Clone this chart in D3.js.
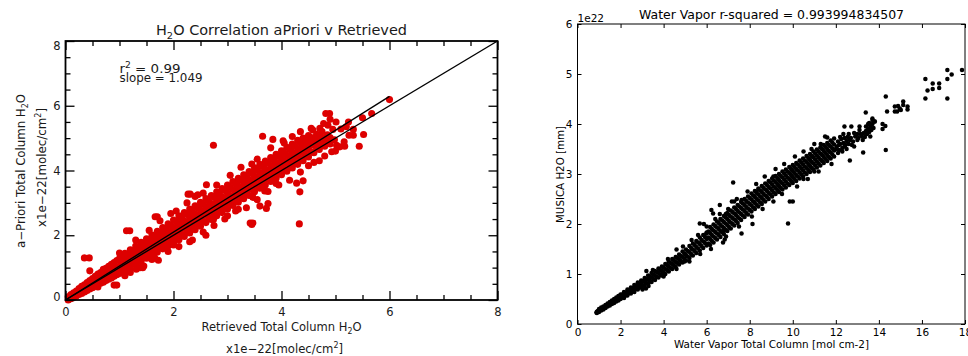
<!DOCTYPE html>
<html>
<head>
<meta charset="utf-8">
<script src="https://cdn.jsdelivr.net/npm/d3@7"></script>
<style>
  body { margin: 0; background: #fff; }
  svg { display: block; }
</style>
</head>
<body>
<svg id="chart" width="968" height="356"></svg>
<script>
// ---------- left panel data: [retrieved, aPriori] x1e-22 ----------
const leftTicks = [0, 2, 4, 6, 8];
const leftMinor = [0.5, 1, 1.5, 2.5, 3, 3.5, 4.5, 5, 5.5, 6.5, 7, 7.5];
const oneToOneLine = [[0, 0], [8, 8]];
const fitLine = [[0, 0], [6, 6.29]];
const fitStats = { r2: '0.99', slope: '1.049' };

const leftCore = [
  [0.05,0.0],[0.05,0.1],[0.1,0.04],[0.1,0.17],[0.15,0.08],[0.15,0.22],[0.16,0.14],[0.2,0.12],[0.2,0.28],[0.21,0.2],
  [0.25,0.17],[0.25,0.35],[0.26,0.25],[0.3,0.2],[0.3,0.42],[0.31,0.3],[0.35,0.25],[0.35,0.47],[0.36,0.36],[0.4,0.29],
  [0.4,0.54],[0.41,0.4],[0.45,0.34],[0.45,0.6],[0.46,0.47],[0.5,0.38],[0.5,0.66],[0.51,0.52],[0.55,0.43],[0.55,0.73],
  [0.56,0.57],[0.6,0.47],[0.6,0.8],[0.61,0.62],[0.65,0.52],[0.65,0.85],[0.66,0.68],[0.7,0.55],[0.7,0.92],[0.71,0.73],
  [0.75,0.6],[0.75,0.98],[0.76,0.79],[0.8,0.64],[0.8,1.04],[0.81,0.85],[0.85,0.68],[0.85,1.1],[0.86,0.9],[0.9,0.73],
  [0.9,1.16],[0.91,0.95],[0.95,0.78],[0.95,1.22],[0.96,1.0],[1.0,0.82],[1.0,1.28],[1.01,1.05],
  [1.05,0.94],[1.05,1.11],[1.05,1.28],[1.1,0.9],[1.1,1.08],[1.1,1.26],[1.1,1.44],[1.15,1.04],[1.15,1.22],[1.15,1.4],
  [1.2,0.99],[1.2,1.18],[1.2,1.36],[1.2,1.55],[1.25,1.14],[1.25,1.33],[1.25,1.51],[1.3,1.09],[1.3,1.28],[1.3,1.48],
  [1.3,1.67],[1.35,1.24],[1.35,1.43],[1.35,1.62],[1.4,1.18],[1.4,1.38],[1.4,1.58],[1.4,1.78],[1.45,1.34],[1.45,1.54],
  [1.45,1.74],[1.5,1.29],[1.5,1.49],[1.5,1.69],[1.5,1.89],[1.55,1.43],[1.55,1.64],[1.55,1.85],[1.6,1.39],[1.6,1.6],
  [1.6,1.8],[1.6,2.01],[1.65,1.54],[1.65,1.75],[1.65,1.96],[1.7,1.48],[1.7,1.69],[1.7,1.91],[1.7,2.12],[1.75,1.64],
  [1.75,1.86],[1.75,2.08],[1.8,1.58],[1.8,1.8],[1.8,2.02],[1.8,2.24],[1.85,1.73],[1.85,1.96],[1.85,2.19],[1.9,1.67],
  [1.9,1.9],[1.9,2.12],[1.9,2.35],[1.95,1.84],[1.95,2.07],[1.95,2.3],[2.0,1.77],[2.0,2.0],[2.0,2.24],[2.0,2.47],
  [2.05,1.92],[2.05,2.17],[2.05,2.42],[2.1,1.86],[2.1,2.11],[2.1,2.35],[2.1,2.6],[2.15,2.03],[2.15,2.28],[2.15,2.53],
  [2.2,1.96],[2.2,2.21],[2.2,2.45],[2.2,2.7],[2.25,2.14],[2.25,2.39],[2.25,2.64],[2.3,2.07],[2.3,2.32],[2.3,2.56],
  [2.3,2.81],[2.35,2.24],[2.35,2.49],[2.35,2.74],[2.4,2.17],[2.4,2.42],[2.4,2.66],[2.4,2.91],[2.45,2.35],[2.45,2.6],
  [2.45,2.85],[2.5,2.28],[2.5,2.53],[2.5,2.77],[2.5,3.02],[2.55,2.45],[2.55,2.7],[2.55,2.95],[2.6,2.39],[2.6,2.64],
  [2.6,2.88],[2.6,3.13],[2.65,2.56],[2.65,2.81],[2.65,3.06],[2.7,2.49],[2.7,2.74],[2.7,2.98],[2.7,3.23],[2.75,2.67],
  [2.75,2.92],[2.75,3.17],[2.8,2.6],[2.8,2.85],[2.8,3.09],[2.8,3.34],[2.85,2.77],[2.85,3.02],[2.85,3.27],[2.9,2.7],
  [2.9,2.95],[2.9,3.19],[2.9,3.44],[2.95,2.88],[2.95,3.13],[2.95,3.38],[3.0,2.81],[3.0,3.06],[3.0,3.3],[3.0,3.55],
  [3.05,2.98],[3.05,3.23],[3.05,3.48],[3.1,2.92],[3.1,3.17],[3.1,3.41],[3.1,3.66],[3.15,3.09],[3.15,3.34],[3.15,3.59],
  [3.2,3.02],[3.2,3.27],[3.2,3.51],[3.2,3.76],[3.25,3.2],[3.25,3.45],[3.25,3.7],[3.3,3.13],[3.3,3.38],[3.3,3.62],
  [3.3,3.87],[3.35,3.3],[3.35,3.55],[3.35,3.8],[3.4,3.23],[3.4,3.48],[3.4,3.72],[3.4,3.97],[3.45,3.41],[3.45,3.66],
  [3.45,3.91],[3.5,3.34],[3.5,3.59],[3.5,3.83],[3.5,4.08],[3.55,3.51],[3.55,3.76],[3.55,4.01],[3.6,3.45],[3.6,3.7],
  [3.6,3.94],[3.6,4.19],[3.65,3.62],[3.65,3.87],[3.65,4.12],[3.7,3.55],[3.7,3.8],[3.7,4.04],[3.7,4.29],[3.75,3.73],
  [3.75,3.98],[3.75,4.23],[3.8,3.66],[3.8,3.91],[3.8,4.15],[3.8,4.4],[3.85,3.83],[3.85,4.08],[3.85,4.33],[3.9,3.76],
  [3.9,4.01],[3.9,4.25],[3.9,4.5],[3.95,3.94],[3.95,4.19],[3.95,4.44],[4.0,3.87],[4.0,4.12],[4.0,4.36],[4.0,4.61],
  [4.05,4.04],[4.05,4.29],[4.05,4.54],[4.1,3.98],[4.1,4.23],[4.1,4.47],[4.1,4.72],[4.15,4.15],[4.15,4.4],[4.15,4.65],
  [4.2,4.08],[4.2,4.33],[4.2,4.57],[4.2,4.82],[4.25,4.25],[4.25,4.5],[4.25,4.75],[4.3,4.19],[4.3,4.44],[4.3,4.68],
  [4.3,4.93],[4.35,4.36],[4.35,4.61],[4.35,4.86],[4.4,4.3],[4.4,4.55],[4.4,4.78],[4.4,5.0],[4.45,4.47],[4.45,4.72],
  [4.45,4.95],[4.5,4.42],[4.5,4.65],[4.5,4.88],[4.5,5.08],[4.55,4.58],[4.55,4.82],[4.55,5.02],[4.6,4.55],[4.6,4.78],
  [4.6,4.98],[4.65,4.7],[4.65,4.9],[4.65,5.12],[4.7,4.65],[4.7,4.85],[4.7,5.05],[4.75,4.8],[4.75,5.0],[4.75,5.2],
  [4.8,4.75],[4.8,4.95],[4.85,4.9],[4.85,5.1],[4.9,4.82],[4.9,5.02]
];

const leftScatter = [
  [2.74,4.78],[4.33,2.35],[3.42,2.38],[3.47,2.38],[3.45,2.33],[3.65,5.06],[3.84,4.96],[4.03,4.92],[0.35,1.3],[0.44,1.3],
  [0.45,0.9],[0.9,0.46],[0.95,0.46],[1.13,2.14],[1.19,2.14],[1.38,1.0],[1.43,1.0],[1.31,0.95],[1.66,2.57],[1.7,2.57],
  [1.72,1.23],[1.95,2.67],[2.27,3.27],[2.31,3.27],[2.4,3.2],[2.61,3.56],[2.6,2.0],[2.74,2.49],[3.6,2.9],[3.75,2.98],
  [3.72,2.83],[4.34,3.34],[4.4,3.68],[4.28,3.61],[3.47,3.17],[3.69,3.37],[4.82,5.76],[4.89,5.76],[4.9,5.58],[5.01,5.5],
  [5.24,5.5],[5.1,5.28],[5.33,5.27],[5.5,5.63],[5.67,5.76],[5.52,5.11],[5.44,4.75],[5.33,5.09],[5.25,5.09],[5.17,4.75],
  [5.16,4.89],[4.93,4.58],[5.02,4.78],[6.0,6.19],[4.95,5.27],[4.86,5.4],[4.71,5.3],[4.58,5.25],[5.08,4.73],[4.98,4.95],
  [5.2,5.35],[4.78,5.45],[1.0,1.45],[1.3,1.85],[1.55,2.15],[1.75,2.45],[2.05,2.75],[2.25,3.0],[2.45,3.25],[2.55,3.3],
  [2.8,3.55],[3.05,3.85],[3.25,4.1],[3.45,4.2],[3.55,4.35],[3.8,4.7],[4.05,4.85],[4.2,5.05],[4.35,5.2],[4.55,5.3],
  [1.1,0.75],[1.45,1.05],[1.65,1.3],[1.9,1.5],[2.1,1.65],[2.35,1.85],[2.55,2.1],[2.75,2.3],[2.95,2.5],[3.15,2.75],
  [3.35,2.85],[3.55,3.1],[3.75,3.35],[3.95,3.55],[4.15,3.7],[4.35,3.95],[4.6,4.25],[4.8,4.45],[5.0,4.6],[0.6,0.4],
  [0.7,0.95],[1.2,0.85],[1.6,1.25],[2.0,1.7],[2.3,1.8],[3.0,2.6],[3.2,2.8],[3.9,3.6],[4.5,4.15],[4.7,4.3]
];

// ---------- right panel data: [total column mol cm-2, MUSICA H2O x1e22] ----------
const rightXTicks = [0, 2, 4, 6, 8, 10, 12, 14, 16, 18];
const rightYTicks = [0, 1, 2, 3, 4, 5, 6];

const rightCore = [
  [0.9,0.24],[0.88,0.23],[0.92,0.25],[0.9,0.22],[0.95,0.26],[1.0,0.24],[1.0,0.3],[1.05,0.28],[1.1,0.27],[1.1,0.33],
  [1.15,0.31],[1.2,0.29],[1.2,0.35],[1.25,0.34],[1.3,0.32],[1.3,0.38],[1.35,0.36],[1.4,0.35],[1.4,0.41],[1.45,0.39],
  [1.5,0.37],[1.5,0.44],[1.55,0.42],[1.6,0.4],[1.6,0.47],[1.65,0.45],[1.7,0.42],[1.7,0.5],[1.75,0.47],[1.8,0.45],
  [1.8,0.53],[1.85,0.5],[1.9,0.47],[1.9,0.56],[1.95,0.53],[2.0,0.5],[2.0,0.59],
  [2.08,0.53],[2.08,0.59],[2.16,0.52],[2.16,0.58],[2.16,0.64],[2.24,0.57],[2.24,0.63],[2.32,0.57],[2.32,0.63],[2.32,0.69],
  [2.4,0.62],[2.4,0.68],[2.48,0.61],[2.48,0.67],[2.48,0.73],[2.56,0.66],[2.56,0.72],[2.64,0.64],[2.64,0.71],[2.64,0.78],
  [2.72,0.7],[2.72,0.76],[2.8,0.69],[2.8,0.76],[2.8,0.83],[2.88,0.74],[2.88,0.81],[2.96,0.73],[2.96,0.8],[2.96,0.87],
  [3.04,0.77],[3.04,0.86],[3.12,0.76],[3.12,0.84],[3.12,0.92],[3.2,0.82],[3.2,0.9],[3.28,0.8],[3.28,0.89],[3.28,0.97],
  [3.36,0.86],[3.36,0.95],[3.44,0.84],[3.44,0.93],[3.44,1.02],[3.52,0.9],[3.52,0.99],[3.6,0.88],[3.6,0.97],[3.6,1.06],
  [3.68,0.94],[3.68,1.04],[3.76,0.93],[3.76,1.02],[3.76,1.11],[3.84,0.99],[3.84,1.08],[3.92,0.97],[3.92,1.06],[3.92,1.15],
  [4.0,1.03],[4.0,1.13],
  [4.08,1.0],[4.08,1.1],[4.08,1.2],[4.16,1.08],[4.16,1.18],[4.24,1.05],[4.24,1.15],[4.24,1.25],[4.32,1.12],[4.32,1.22],
  [4.4,1.1],[4.4,1.2],[4.4,1.3],[4.48,1.17],[4.48,1.27],[4.56,1.14],[4.56,1.24],[4.56,1.34],[4.64,1.22],[4.64,1.32],
  [4.72,1.19],[4.72,1.29],[4.72,1.39],[4.8,1.26],[4.8,1.36],[4.88,1.23],[4.88,1.34],[4.88,1.45],[4.96,1.31],[4.96,1.41],
  [5.04,1.27],[5.04,1.38],[5.04,1.49],[5.12,1.35],[5.12,1.46],[5.2,1.32],[5.2,1.44],[5.2,1.56],[5.28,1.4],[5.28,1.52],
  [5.36,1.37],[5.36,1.49],[5.36,1.61],[5.44,1.46],[5.44,1.58],[5.52,1.42],[5.52,1.54],[5.52,1.66],[5.6,1.51],[5.6,1.63],
  [5.68,1.47],[5.68,1.6],[5.68,1.73],[5.76,1.56],[5.76,1.68],[5.84,1.52],[5.84,1.65],[5.84,1.78],[5.92,1.62],[5.92,1.74],
  [6.0,1.57],[6.0,1.7],[6.0,1.83],
  [6.08,1.61],[6.08,1.73],[6.08,1.85],[6.16,1.58],[6.16,1.7],[6.16,1.82],[6.16,1.94],[6.24,1.66],[6.24,1.78],[6.24,1.9],
  [6.32,1.63],[6.32,1.75],[6.32,1.87],[6.32,1.99],[6.4,1.72],[6.4,1.84],[6.4,1.96],[6.48,1.69],[6.48,1.81],[6.48,1.93],
  [6.48,2.05],[6.56,1.78],[6.56,1.9],[6.56,2.02],[6.64,1.74],[6.64,1.86],[6.64,1.98],[6.64,2.1],[6.72,1.83],[6.72,1.95],
  [6.72,2.07],[6.8,1.8],[6.8,1.92],[6.8,2.04],[6.8,2.16],[6.88,1.89],[6.88,2.01],[6.88,2.13],[6.96,1.86],[6.96,1.98],
  [6.96,2.1],[6.96,2.22],[7.04,1.94],[7.04,2.06],[7.04,2.18],[7.12,1.91],[7.12,2.03],[7.12,2.15],[7.12,2.27],[7.2,2.0],
  [7.2,2.12],[7.2,2.24],[7.28,1.97],[7.28,2.09],[7.28,2.21],[7.28,2.33],[7.36,2.06],[7.36,2.18],[7.36,2.3],[7.44,2.02],
  [7.44,2.14],[7.44,2.26],[7.44,2.38],[7.52,2.11],[7.52,2.23],[7.52,2.35],[7.6,2.08],[7.6,2.2],[7.6,2.32],[7.6,2.44],
  [7.68,2.17],[7.68,2.29],[7.68,2.41],[7.76,2.14],[7.76,2.26],[7.76,2.38],[7.76,2.5],[7.84,2.22],[7.84,2.34],[7.84,2.46],
  [7.92,2.19],[7.92,2.31],[7.92,2.43],[7.92,2.55],[8.0,2.28],[8.0,2.4],[8.0,2.52],[8.08,2.25],[8.08,2.37],[8.08,2.49],
  [8.08,2.61],[8.16,2.33],[8.16,2.45],[8.16,2.57],[8.24,2.3],[8.24,2.42],[8.24,2.54],[8.24,2.66],[8.32,2.38],[8.32,2.5],
  [8.32,2.62],[8.4,2.35],[8.4,2.47],[8.4,2.59],[8.4,2.71],[8.48,2.43],[8.48,2.55],[8.48,2.67],[8.56,2.4],[8.56,2.52],
  [8.56,2.64],[8.56,2.76],[8.64,2.48],[8.64,2.6],[8.64,2.72],[8.72,2.45],[8.72,2.57],[8.72,2.69],[8.72,2.81],[8.8,2.54],
  [8.8,2.66],[8.8,2.78],[8.88,2.5],[8.88,2.62],[8.88,2.74],[8.88,2.86],[8.96,2.59],[8.96,2.71],[8.96,2.83],[9.04,2.55],
  [9.04,2.67],[9.04,2.79],[9.04,2.91],[9.12,2.63],[9.12,2.75],[9.12,2.87],[9.2,2.6],[9.2,2.72],[9.2,2.84],[9.2,2.96],
  [9.28,2.68],[9.28,2.8],[9.28,2.92],[9.36,2.64],[9.36,2.76],[9.36,2.88],[9.36,3.0],[9.44,2.72],[9.44,2.84],[9.44,2.96],
  [9.52,2.69],[9.52,2.81],[9.52,2.93],[9.52,3.05],[9.6,2.77],[9.6,2.89],[9.6,3.01],[9.68,2.73],[9.68,2.85],[9.68,2.97],
  [9.68,3.09],[9.76,2.81],[9.76,2.93],[9.76,3.05],[9.84,2.78],[9.84,2.9],[9.84,3.02],[9.84,3.14],[9.92,2.86],[9.92,2.98],
  [9.92,3.1],[10.0,2.82],[10.0,2.94],[10.0,3.06],[10.0,3.18],[10.08,2.9],[10.08,3.02],[10.08,3.14],[10.16,2.86],[10.16,2.98],
  [10.16,3.1],[10.16,3.22],[10.24,2.95],[10.24,3.07],[10.24,3.19],[10.32,2.91],[10.32,3.03],[10.32,3.15],[10.32,3.27],[10.4,2.99],
  [10.4,3.11],[10.4,3.23],[10.48,2.95],[10.48,3.07],[10.48,3.19],[10.48,3.31],[10.56,3.03],[10.56,3.15],[10.56,3.27],[10.64,3.0],
  [10.64,3.12],[10.64,3.24],[10.64,3.36],[10.72,3.08],[10.72,3.2],[10.72,3.32],[10.8,3.04],[10.8,3.16],[10.8,3.28],[10.8,3.4],
  [10.88,3.12],[10.88,3.24],[10.88,3.36],[10.96,3.09],[10.96,3.21],[10.96,3.33],[10.96,3.45],[11.04,3.17],[11.04,3.29],[11.04,3.41],
  [11.12,3.13],[11.12,3.25],[11.12,3.37],[11.12,3.49],[11.2,3.21],[11.2,3.33],[11.2,3.45],[11.28,3.17],[11.28,3.29],[11.28,3.41],
  [11.28,3.53],[11.36,3.26],[11.36,3.38],[11.36,3.5],[11.44,3.22],[11.44,3.34],[11.44,3.46],[11.44,3.58],[11.52,3.3],[11.52,3.42],
  [11.52,3.54],[11.6,3.26],[11.6,3.38],[11.6,3.5],[11.6,3.62],[11.68,3.34],[11.68,3.46],[11.68,3.58],[11.76,3.31],[11.76,3.43],
  [11.76,3.55],[11.76,3.67],[11.84,3.39],[11.84,3.51],[11.84,3.63],[11.92,3.35],[11.92,3.47],[11.92,3.59],[11.92,3.71],
  [12.05,3.55],[12.1,3.65],[12.15,3.48],[12.2,3.6],[12.25,3.7],[12.3,3.52],[12.35,3.62],[12.4,3.72],[12.45,3.58],[12.5,3.66],
  [12.55,3.74],[12.6,3.6],[12.65,3.68],[12.1,3.42],[12.3,3.45],[12.2,3.74],[12.5,3.5],[12.7,3.72],[12.75,3.58],[12.9,3.75],
  [13.0,3.8],[13.05,3.72],[13.15,3.8],[13.2,3.76],[13.3,3.82],[13.35,3.74],[13.4,3.86],[13.45,3.8],[13.5,3.9],[13.55,3.84],
  [13.6,3.95],[13.65,3.88],[13.7,4.0],[13.75,3.92],[13.8,4.05],[13.55,4.02],[13.7,4.08],[13.4,3.95],[13.0,3.68],[13.6,3.75],
  [12.0,3.5],[12.15,3.58],[12.4,3.55],[12.35,3.8],[12.6,3.8],[12.8,3.65],[12.85,3.82],[13.1,3.88],[13.25,3.68],[13.5,4.0]
];

const rightScatter = [
  [16.16,4.9],[16.16,4.51],[16.26,4.67],[16.5,4.81],[16.8,4.81],[16.5,4.7],[16.8,4.72],[17.18,5.08],[17.18,4.9],[17.18,4.51],
  [17.38,4.99],[17.86,5.08],[14.32,4.55],[14.38,4.25],[14.32,3.48],[14.17,3.9],[14.17,4.0],[14.3,3.96],[14.74,4.35],[14.89,4.36],
  [14.74,4.25],[14.85,4.25],[15.02,4.28],[15.13,4.45],[15.13,4.38],[15.33,4.35],[15.33,4.29],[14.97,4.31],[13.39,4.23],[13.7,4.11],
  [13.81,4.05],[9.78,2.01],[9.86,2.45],[10.0,2.45],[12.65,3.27],[13.27,3.43],[12.72,3.95],[12.4,3.95],[11.6,3.73],[10.87,3.5],
  [10.9,3.35],[7.23,2.83],[5.87,2.0],[6.61,2.2],[6.89,2.2],[7.17,2.45],[7.28,2.45],[7.62,2.48],[6.3,2.21],[6.8,1.87],
  [6.61,2.38],[3.18,0.71],[5.68,2.01],[3.02,0.69],[3.2,1.06],[4.6,1.49],[4.98,1.25],[5.99,1.81],[6.22,2.28],[6.84,1.69],
  [6.76,1.63],[7.62,1.81],[8.13,2.0],[8.3,2.65],[9.1,2.95],[10.5,2.9],[11.0,3.05],[11.3,3.6],[12.85,3.55],[13.1,3.95],
  [3.5,1.08],[4.2,1.3],[4.9,1.55],[5.3,1.68],[5.6,1.78],[6.0,1.95],[6.4,2.1],[7.0,2.3],[7.4,2.5],[7.9,2.65],
  [8.3,2.8],[8.7,2.95],[9.2,3.1],[9.6,3.2],[10.1,3.35],[10.5,3.45],[11.0,3.6],[11.5,3.75],[3.3,0.76],[4.0,0.95],
  [4.6,1.1],[5.2,1.25],[5.7,1.4],[6.2,1.5],[6.9,1.75],[7.5,1.95],[8.1,2.15],[8.6,2.3],[9.1,2.45],[9.5,2.6],
  [10.2,2.75],[10.7,2.9],[11.2,3.05],[11.8,3.2]
];

// ---------- drawing ----------
const svg = d3.select('#chart');
const fontFamily = '"DejaVu Sans", Verdana, sans-serif';

// text with sub/superscript pieces: parts = [[text, 'sub'|'sup'|null], ...]
function richText(parent, parts, opts) {
  const t = parent.append('text')
    .attr('font-family', fontFamily)
    .attr('font-size', opts.size)
    .attr('fill', opts.fill)
    .attr('text-anchor', opts.anchor || 'start')
    .attr('x', opts.x).attr('y', opts.y);
  if (opts.rotate) t.attr('transform', `rotate(${opts.rotate},${opts.x},${opts.y})`);
  if (opts.length) t.attr('textLength', opts.length).attr('lengthAdjust', 'spacingAndGlyphs');
  let shift = 0;
  parts.forEach(([s, kind]) => {
    const ts = t.append('tspan').text(s);
    const target = kind === 'sub' ? opts.size * 0.28 : kind === 'sup' ? -opts.size * 0.38 : 0;
    ts.attr('dy', target - shift);
    shift = target;
    if (kind) ts.attr('font-size', opts.size * 0.68);
  });
  return t;
}

// ===== left panel (IDL) =====
const lx = d3.scaleLinear().domain([0, 8]).range([65.5, 497.5]);
const ly = d3.scaleLinear().domain([0, 8]).range([300, 41]);
const leftInk = '#1a1a1a';
const left = svg.append('g');

left.append('g')
  .selectAll('circle')
  .data(leftCore.concat(leftScatter))
  .join('circle')
  .attr('cx', (d) => lx(d[0]))
  .attr('cy', (d) => ly(d[1]))
  .attr('r', 3.55)
  .attr('fill', '#dd0000');

const leftLine = d3.line().x((d) => lx(d[0])).y((d) => ly(d[1]));
[oneToOneLine, fitLine].forEach((pts) => {
  left.append('path').attr('d', leftLine(pts)).attr('fill', 'none').attr('stroke', '#000').attr('stroke-width', 1.4);
});

// axes: majors + minors on all four sides, ticks pointing in
const lAxes = [
  [d3.axisBottom(lx), `translate(0,${ly(0)})`, true, 'lb'],
  [d3.axisTop(lx), `translate(0,${ly(8)})`, false, 'lt'],
  [d3.axisLeft(ly), `translate(${lx(0)},0)`, true, 'll'],
  [d3.axisRight(ly), `translate(${lx(8)},0)`, false, 'lr'],
];
lAxes.forEach(([axis, tr, labelled, cls]) => {
  left.append('g').attr('class', cls).attr('transform', tr)
    .call(axis.tickValues(leftTicks).tickSize(-9).tickPadding(labelled ? 8 : 0)
      .tickFormat(labelled ? d3.format('d') : ''));
  left.append('g').attr('transform', tr)
    .call(axis.tickValues(leftMinor).tickSize(-5).tickFormat(''));
});
left.selectAll('.domain').remove();
left.selectAll('.tick line').attr('stroke', '#000').attr('stroke-width', 1.3);
left.selectAll('.tick text')
  .attr('font-family', fontFamily).attr('font-size', 11.5).attr('fill', leftInk);
// y labels: IDL nudges the end labels inside the frame
left.select('.ll').selectAll('.tick text')
  .attr('x', -5)
  .attr('dy', (d) => (d === 8 ? '0.72em' : d === 0 ? '0.08em' : '0.32em'));

left.append('rect')
  .attr('x', lx(0)).attr('y', ly(8))
  .attr('width', lx(8) - lx(0)).attr('height', ly(0) - ly(8))
  .attr('fill', 'none').attr('stroke', '#000').attr('stroke-width', 1.8);

richText(left, [['H', null], ['2', 'sub'], ['O Correlation aPriori v Retrieved', null]],
  { x: 156, y: 35, size: 13.5, fill: leftInk, length: 251 });
richText(left, [['r', null], ['2', 'sup'], ['  =   ' + fitStats.r2, null]],
  { x: 119.5, y: 72.5, size: 12, fill: leftInk, length: 61 });
richText(left, [['slope  =  ' + fitStats.slope, null]],
  { x: 119.5, y: 82.3, size: 12, fill: leftInk, length: 83 });
richText(left, [['Retrieved Total Column H', null], ['2', 'sub'], ['O', null]],
  { x: 201.5, y: 331, size: 12, fill: leftInk, length: 160 });
richText(left, [['x1e\u221222[molec/cm', null], ['2', 'sup'], [']', null]],
  { x: 226, y: 352.5, size: 12, fill: leftInk, length: 117 });
richText(left, [['a\u2212Priori Total Column H', null], ['2', 'sub'], ['O', null]],
  { x: 25, y: 171, size: 12, fill: leftInk, anchor: 'middle', rotate: -90, length: 154 });
richText(left, [['x1e\u221222[molec/cm', null], ['2', 'sup'], [']', null]],
  { x: 46, y: 167.5, size: 12, fill: leftInk, anchor: 'middle', rotate: -90, length: 119 });

// ===== right panel (matplotlib) =====
const rx = d3.scaleLinear().domain([0, 18]).range([577.5, 965]);
const ry = d3.scaleLinear().domain([0, 6]).range([324, 24]);
const right = svg.append('g');

right.append('g')
  .selectAll('circle')
  .data(rightCore.concat(rightScatter))
  .join('circle')
  .attr('cx', (d) => rx(d[0]))
  .attr('cy', (d) => ry(d[1]))
  .attr('r', 2.25)
  .attr('fill', '#000');

const rAxes = [
  [d3.axisBottom(rx).tickValues(rightXTicks), `translate(0,${ry(0)})`, true],
  [d3.axisTop(rx).tickValues(rightXTicks), `translate(0,${ry(6)})`, false],
  [d3.axisLeft(ry).tickValues(rightYTicks), `translate(${rx(0)},0)`, true],
  [d3.axisRight(ry).tickValues(rightYTicks), `translate(${rx(18)},0)`, false],
];
rAxes.forEach(([axis, tr, labelled]) => {
  right.append('g').attr('transform', tr)
    .call(axis.tickSize(-4).tickPadding(labelled ? 5 : 0).tickFormat(labelled ? d3.format('d') : ''));
});
right.selectAll('.domain').remove();
right.selectAll('.tick line').attr('stroke', '#000').attr('stroke-width', 1);
right.selectAll('.tick text').attr('font-family', fontFamily).attr('font-size', 10.5).attr('fill', '#000');

right.append('rect')
  .attr('x', rx(0)).attr('y', ry(6))
  .attr('width', rx(18) - rx(0)).attr('height', ry(0) - ry(6))
  .attr('fill', 'none').attr('stroke', '#000').attr('stroke-width', 1);

richText(right, [['1e22', null]], { x: 577.5, y: 21.5, size: 10.5, fill: '#000' });
richText(right, [['Water Vapor r-squared = 0.993994834507', null]],
  { x: 771.5, y: 19, size: 12.5, fill: '#000', anchor: 'middle', length: 265 });
richText(right, [['Water Vapor Total Column [mol cm-2]', null]],
  { x: 771.5, y: 348, size: 10.5, fill: '#000', anchor: 'middle', length: 195 });
richText(right, [['MUSICA H2O [mm]', null]],
  { x: 563.5, y: 174.5, size: 10.5, fill: '#000', anchor: 'middle', rotate: -90, length: 97 });
</script>
</body>
</html>
